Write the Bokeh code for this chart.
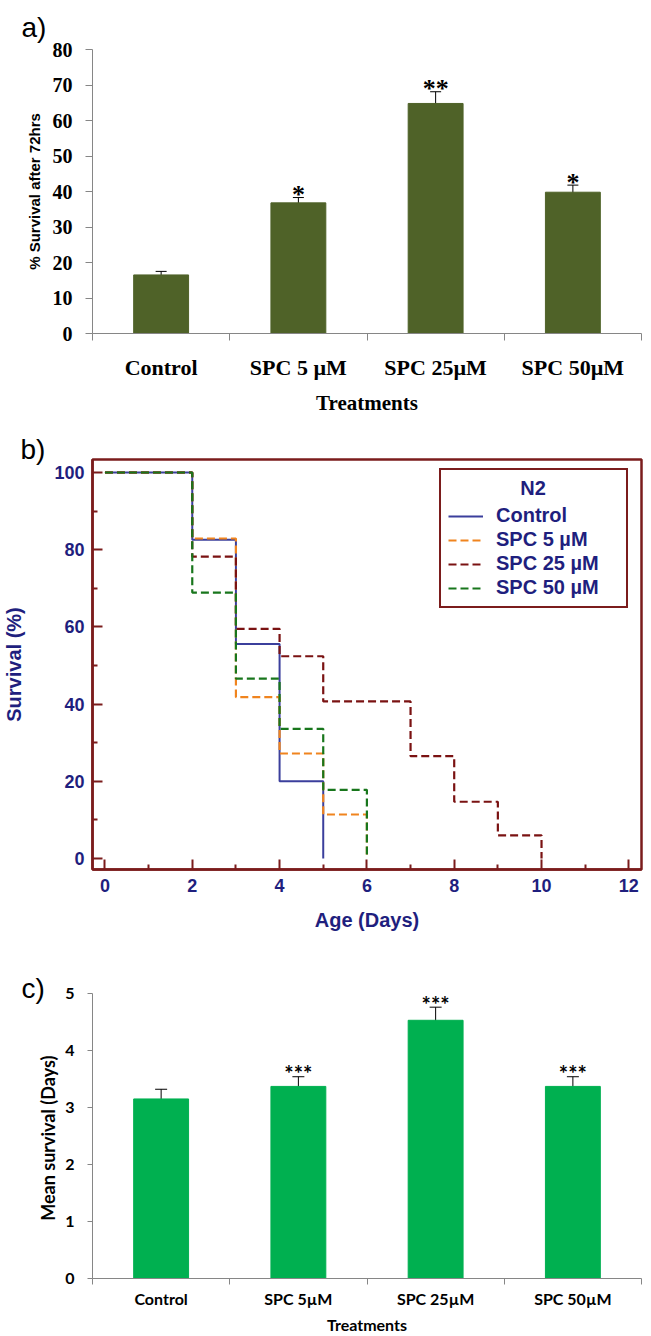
from bokeh.plotting import figure
from bokeh.models import (ColumnDataSource, Whisker, TeeHead, FixedTicker,
                          Legend, LegendItem, Range1d, Title)
from bokeh.layouts import column
from bokeh.embed import file_html
from bokeh.resources import INLINE
from bokeh.core.properties import value

# ---------------- data ----------------
# Panel a: % survival after 72 hrs
treat_a = ["Control", "SPC 5 µM", "SPC 25µM", "SPC 50µM"]
surv_a = [16.5, 36.8, 64.8, 39.8]
err_a = [1.0, 1.5, 3.3, 2.0]
stars_a = ["", "*", "**", "*"]

# Panel b: lifespan curves (N2)
days_control = [0, 2, 3, 4, 5]
surv_control = [100, 82.6, 55.6, 20.0, 0]
days_spc5 = [0, 2, 3, 4, 5, 6]
surv_spc5 = [100, 82.9, 41.8, 27.2, 11.4, 0]
days_spc25 = [0, 2, 3, 4, 5, 7, 8, 9, 10]
surv_spc25 = [100, 78.2, 59.5, 52.4, 40.7, 26.5, 14.7, 6.0, 0]
days_spc50 = [0, 2, 3, 4, 5, 6]
surv_spc50 = [100, 68.9, 46.6, 33.6, 17.8, 0]
legend_labels = ["Control", "SPC 5 µM", "SPC 25 µM", "SPC 50 µM"]
x_ticks_b = [0, 2, 4, 6, 8, 10, 12]
y_ticks_b = [0, 20, 40, 60, 80, 100]

# Panel c: mean survival (days)
treat_c = ["Control", "SPC 5µM", "SPC 25µM", "SPC 50µM"]
mean_c = [3.15, 3.37, 4.53, 3.37]
err_c = [0.17, 0.17, 0.23, 0.17]
stars_c = ["", "***", "***", "***"]

GRAY = "#868686"
NAVY = "#1f1f7e"
DRED = "#7b1c1c"
W = 648


def panel_title(text, offset, standoff):
    return Title(text=text, align="left", offset=offset, standoff=standoff,
                 text_font="Liberation Sans", text_font_size="28px",
                 text_font_style="normal", text_color="black")


# ---------------- panel a ----------------
xa = [i + 0.5 for i in range(len(treat_a))]
src_a = ColumnDataSource(dict(x=xa, top=surv_a,
                              upper=[m + e for m, e in zip(surv_a, err_a)],
                              lower=[m - e for m, e in zip(surv_a, err_a)],
                              stars=stars_a))
pa = figure(width=W, height=420, x_range=Range1d(0, len(treat_a)), y_range=Range1d(0, 80),
            output_backend="svg", toolbar_location=None,
            min_border_left=88, min_border_right=5, min_border_top=49, min_border_bottom=87)
pa.title = panel_title("a)", -71, 14)
pa.vbar(x="x", top="top", width=0.4, color="#4f6228", source=src_a)
pa.add_layout(Whisker(base="x", upper="upper", lower="lower", source=src_a,
                      line_color="black", line_width=1,
                      upper_head=TeeHead(size=11, line_color="black", line_width=1),
                      lower_head=TeeHead(size=11, line_color="black", line_width=1)))
pa.text(x="x", y="upper", text="stars", source=src_a, text_align="center",
        text_baseline="middle", y_offset=-3, text_font=value("Liberation Serif"),
        text_font_size="26px", text_font_style="bold", text_color="black")
pa.grid.visible = False
pa.outline_line_color = None
xa_ax = pa.xaxis[0]
xa_ax.ticker = FixedTicker(ticks=xa, minor_ticks=list(range(len(treat_a) + 1)))
xa_ax.major_label_overrides = {x: t for x, t in zip(xa, treat_a)}
xa_ax.major_tick_out = 0
xa_ax.major_tick_in = 0
xa_ax.minor_tick_out = 7
xa_ax.minor_tick_in = 0
xa_ax.minor_tick_line_color = GRAY
xa_ax.axis_line_color = GRAY
xa_ax.major_label_standoff = 14
xa_ax.major_label_text_font = "Liberation Serif"
xa_ax.major_label_text_font_style = "bold"
xa_ax.major_label_text_font_size = "22px"
xa_ax.major_label_text_color = "black"
xa_ax.axis_label = "Treatments"
xa_ax.axis_label_text_font = "Liberation Serif"
xa_ax.axis_label_text_font_style = "bold"
xa_ax.axis_label_text_font_size = "21px"
xa_ax.axis_label_text_color = "black"
xa_ax.axis_label_standoff = 8
ya_ax = pa.yaxis[0]
ya_ax.ticker = FixedTicker(ticks=list(range(0, 81, 10)), minor_ticks=[])
ya_ax.major_tick_out = 7
ya_ax.major_tick_in = 0
ya_ax.major_tick_line_color = GRAY
ya_ax.axis_line_color = GRAY
ya_ax.major_label_standoff = 13
ya_ax.major_label_text_font = "Liberation Serif"
ya_ax.major_label_text_font_style = "bold"
ya_ax.major_label_text_font_size = "20px"
ya_ax.major_label_text_color = "black"
ya_ax.axis_label = "% Survival after 72hrs"
ya_ax.axis_label_text_font = "Liberation Sans"
ya_ax.axis_label_text_font_style = "bold"
ya_ax.axis_label_text_font_size = "15px"
ya_ax.axis_label_text_color = "black"
ya_ax.axis_label_standoff = 7

# ---------------- panel b ----------------
pb = figure(width=W, height=530, x_range=Range1d(-0.285, 12.29), y_range=Range1d(-2.85, 103.37),
            output_backend="svg", toolbar_location=None,
            min_border_left=89, min_border_right=7, min_border_top=39, min_border_bottom=81)
pb.title = panel_title("b)", -72, -10)
pb.grid.visible = False
pb.outline_line_color = DRED
pb.outline_line_width = 2.5
r_ctrl = pb.step(days_control, surv_control, mode="after", line_color="#3b3f9c", line_width=2)
r_5 = pb.step(days_spc5, surv_spc5, mode="after", line_color="#f0841e", line_width=2.2,
              line_dash="8 4")
r_25 = pb.step(days_spc25, surv_spc25, mode="after", line_color="#7a1212", line_width=2.2,
               line_dash="8 4")
r_50 = pb.step(days_spc50, surv_spc50, mode="after", line_color="#18761c", line_width=2.2,
               line_dash="8 4")
leg = Legend(items=[LegendItem(label=l, renderers=[r]) for l, r in
                    zip(legend_labels, [r_ctrl, r_5, r_25, r_50])],
             title="\u00a0" * 13 + "N2", location=(347, 261))
leg.border_line_color = DRED
leg.border_line_width = 2
leg.border_line_alpha = 1
leg.background_fill_color = "white"
leg.background_fill_alpha = 1
leg.label_text_font = "Liberation Sans"
leg.label_text_font_style = "bold"
leg.label_text_font_size = "20px"
leg.label_text_color = NAVY
leg.title_text_font = "Liberation Sans"
leg.title_text_font_style = "bold"
leg.title_text_font_size = "20px"
leg.title_text_color = NAVY
leg.title_standoff = 4
leg.glyph_width = 35
leg.glyph_height = 20
leg.label_height = 20
leg.label_width = 123
leg.label_standoff = 13
leg.spacing = 1
leg.padding = 7
leg.margin = 0
pb.add_layout(leg)
for ax in (pb.xaxis[0], pb.yaxis[0]):
    ax.axis_line_color = DRED
    ax.axis_line_width = 2.5
    ax.major_tick_in = 10
    ax.major_tick_out = 0
    ax.minor_tick_in = 5
    ax.minor_tick_out = 0
    ax.major_tick_line_color = DRED
    ax.minor_tick_line_color = DRED
    ax.major_tick_line_width = 2
    ax.minor_tick_line_width = 2
    ax.major_label_text_font = "Liberation Sans"
    ax.major_label_text_font_style = "bold"
    ax.major_label_text_font_size = "18px"
    ax.major_label_text_color = NAVY
    ax.axis_label_text_font = "Liberation Sans"
    ax.axis_label_text_font_style = "bold"
    ax.axis_label_text_font_size = "20px"
    ax.axis_label_text_color = NAVY
pb.xaxis[0].ticker = FixedTicker(ticks=x_ticks_b, minor_ticks=[1, 3, 5, 7, 9, 11])
pb.yaxis[0].ticker = FixedTicker(ticks=y_ticks_b, minor_ticks=[10, 30, 50, 70, 90])
pb.xaxis[0].major_label_standoff = 9
pb.yaxis[0].major_label_standoff = 8
pb.xaxis[0].axis_label = "Age (Days)"
pb.xaxis[0].axis_label_standoff = 14
pb.yaxis[0].axis_label = "Survival (%)"
pb.yaxis[0].axis_label_standoff = 26

# ---------------- panel c ----------------
xc = [i + 0.5 for i in range(len(treat_c))]
src_c = ColumnDataSource(dict(x=xc, top=mean_c,
                              upper=[m + e for m, e in zip(mean_c, err_c)],
                              lower=[m - e for m, e in zip(mean_c, err_c)],
                              stars=stars_c))
pc = figure(width=W, height=386, x_range=Range1d(0, len(treat_c)), y_range=Range1d(0, 5),
            output_backend="svg", toolbar_location=None,
            min_border_left=88, min_border_right=7, min_border_top=43, min_border_bottom=58)
pc.title = panel_title("c)", -71, -20)
pc.vbar(x="x", top="top", width=0.4, color="#00b050", source=src_c)
pc.add_layout(Whisker(base="x", upper="upper", lower="lower", source=src_c,
                      line_color="black", line_width=1,
                      upper_head=TeeHead(size=12, line_color="black", line_width=1),
                      lower_head=TeeHead(size=12, line_color="black", line_width=1)))
pc.text(x="x", y="upper", text="stars", source=src_c, text_align="center",
        text_baseline="middle", y_offset=-3, text_font=value("Lato"),
        text_font_size="22px", text_font_style="bold", text_color="black")
pc.grid.visible = False
pc.outline_line_color = None
xc_ax = pc.xaxis[0]
xc_ax.ticker = FixedTicker(ticks=xc, minor_ticks=list(range(len(treat_c) + 1)))
xc_ax.major_label_overrides = {x: t for x, t in zip(xc, treat_c)}
xc_ax.major_tick_out = 0
xc_ax.major_tick_in = 0
xc_ax.minor_tick_out = 6
xc_ax.minor_tick_in = 0
xc_ax.minor_tick_line_color = GRAY
xc_ax.axis_line_color = GRAY
xc_ax.major_label_standoff = 4
xc_ax.major_label_text_font = "Lato"
xc_ax.major_label_text_font_style = "bold"
xc_ax.major_label_text_font_size = "16px"
xc_ax.major_label_text_color = "black"
xc_ax.axis_label = "Treatments"
xc_ax.axis_label_text_font = "Lato"
xc_ax.axis_label_text_font_style = "bold"
xc_ax.axis_label_text_font_size = "16px"
xc_ax.axis_label_text_color = "black"
xc_ax.axis_label_standoff = 4
yc_ax = pc.yaxis[0]
yc_ax.ticker = FixedTicker(ticks=[0, 1, 2, 3, 4, 5], minor_ticks=[])
yc_ax.major_tick_out = 5
yc_ax.major_tick_in = 0
yc_ax.major_tick_line_color = GRAY
yc_ax.axis_line_color = GRAY
yc_ax.major_label_standoff = 13
yc_ax.major_label_text_font = "Lato"
yc_ax.major_label_text_font_style = "bold"
yc_ax.major_label_text_font_size = "16px"
yc_ax.major_label_text_color = "black"
yc_ax.axis_label = "Mean survival  (Days)"
yc_ax.axis_label_text_font = "Lato"
yc_ax.axis_label_text_font_style = "bold"
yc_ax.axis_label_text_font_size = "18px"
yc_ax.axis_label_text_color = "black"
yc_ax.axis_label_standoff = 3

layout = column(pa, pb, pc, spacing=0)
open("out.html", "w").write(file_html(layout, INLINE))
